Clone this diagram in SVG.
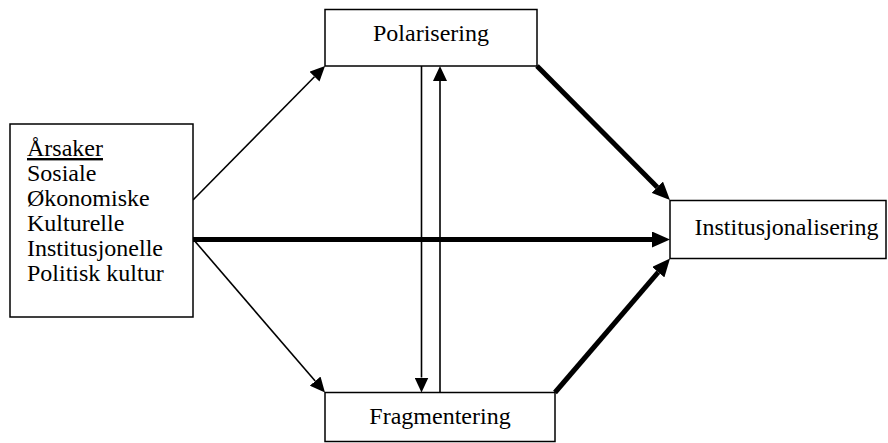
<svg xmlns="http://www.w3.org/2000/svg" width="888" height="443" viewBox="0 0 888 443">
<style>
.box{fill:#fff;stroke:#000;stroke-width:1.5}
text{font-family:'Liberation Serif',serif;font-size:24px;fill:#000}
.thin{stroke:#000;stroke-width:1.6;fill:none}
.thick{stroke:#000;stroke-width:5;fill:none}
</style>
<defs>
<marker id="ah" viewBox="0 -7 15 14" markerWidth="15" markerHeight="14" refX="0" refY="0" orient="auto" markerUnits="userSpaceOnUse">
<path d="M0,-7 L15,0 L0,7 z" fill="#000"/>
</marker>
<marker id="ahb" viewBox="0 -8 18 16" markerWidth="18" markerHeight="16" refX="0" refY="0" orient="auto" markerUnits="userSpaceOnUse">
<path d="M0,-8 L18,0 L0,8 z" fill="#000"/>
</marker>
</defs>
<rect width="888" height="443" fill="#fff"/>
<g id="connectors">
<line class="thin" x1="193" y1="200" x2="314.5" y2="76.7" marker-end="url(#ah)"/>
<line class="thin" x1="193" y1="239" x2="315.2" y2="381.1" marker-end="url(#ah)"/>
<line class="thick" x1="193" y1="239.5" x2="652" y2="239.5" marker-end="url(#ahb)"/>
<line class="thick" x1="537" y1="66" x2="657.3" y2="187.2" marker-end="url(#ahb)"/>
<line class="thick" x1="555" y1="392.5" x2="658.3" y2="272.2" marker-end="url(#ahb)"/>
<line class="thin" x1="421.5" y1="66" x2="421.5" y2="377.5" marker-end="url(#ah)"/>
<line class="thin" x1="440" y1="392.5" x2="440" y2="81" marker-end="url(#ah)"/>
</g>
<g id="arsaker">
<rect class="box" x="10" y="124" width="183" height="193"/>
<text font-family="Liberation Serif, serif" x="27" y="156" text-decoration="underline">Årsaker</text>
<text font-family="Liberation Serif, serif" x="27" y="181">Sosiale</text>
<text font-family="Liberation Serif, serif" x="27" y="206">Økonomiske</text>
<text font-family="Liberation Serif, serif" x="27" y="231">Kulturelle</text>
<text font-family="Liberation Serif, serif" x="27" y="256">Institusjonelle</text>
<text font-family="Liberation Serif, serif" x="27" y="281">Politisk kultur</text>
</g>
<g id="polarisering">
<rect class="box" x="325" y="9.5" width="212" height="56.5"/>
<text font-family="Liberation Serif, serif" x="431" y="41" text-anchor="middle">Polarisering</text>
</g>
<g id="fragmentering">
<rect class="box" x="325" y="392.5" width="230" height="49"/>
<text font-family="Liberation Serif, serif" x="440" y="424" text-anchor="middle">Fragmentering</text>
</g>
<g id="institusjonalisering">
<rect class="box" x="670" y="200.5" width="216" height="58"/>
<text font-family="Liberation Serif, serif" x="786.5" y="235" text-anchor="middle">Institusjonalisering</text>
</g>
</svg>
